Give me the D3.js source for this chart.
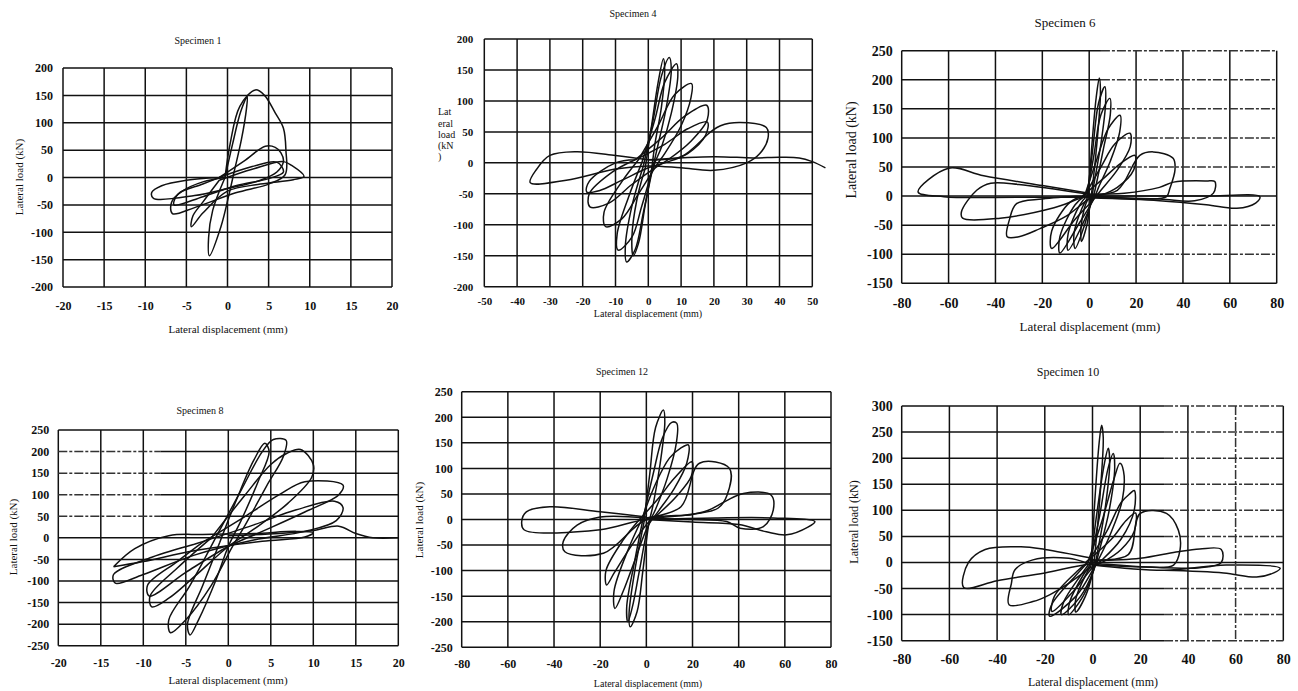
<!DOCTYPE html>
<html>
<head>
<meta charset="utf-8">
<script src="https://cdn.jsdelivr.net/npm/d3@7"></script>
<style>
  body { margin: 0; background: #fff; }
  svg { display: block; }
  text { font-family: "Liberation Serif", "DejaVu Serif", serif; fill: #111; }
</style>
</head>
<body>
<svg id="fig" width="1298" height="691"></svg>
<script>
// ---- tick values ----
const ticksX20 = [-20, -15, -10, -5, 0, 5, 10, 15, 20];
const ticksX50 = [-50, -40, -30, -20, -10, 0, 10, 20, 30, 40, 50];
const ticksX80 = [-80, -60, -40, -20, 0, 20, 40, 60, 80];
const ticksY200 = [-200, -150, -100, -50, 0, 50, 100, 150, 200];
const ticksY250 = [-250, -200, -150, -100, -50, 0, 50, 100, 150, 200, 250];
const ticksY6 = [-150, -100, -50, 0, 50, 100, 150, 200, 250];
const ticksY10 = [-150, -100, -50, 0, 50, 100, 150, 200, 250, 300];

// ---- hysteresis loops: [displacement mm, load kN] ----
const spec1Loops = [
  [[-0.3,0],[0.6,60],[1.6,120],[2.4,148],[2.3,125],[1.7,70],[0.8,10],[0.2,-30],[-0.8,-90],[-2.2,-143],[-2.3,-110],[-1.8,-60],[-0.3,0]],
  [[-0.3,0],[0.3,60],[1.5,130],[3.4,160],[4.5,150],[5.8,118],[6.8,90],[7.1,50],[7.0,5],[5,-12],[1,-28],[-4,-55],[-6.7,-66],[-6.8,-45],[-5.5,-25],[-3,-8],[-0.3,0]],
  [[-1,0],[2,30],[4.6,57],[5.8,55],[6.5,45],[6.8,29],[6,10],[4,-5],[0,-20],[-4,-33],[-9,-38],[-9.2,-27],[-8,-15],[-5,-5],[-1,0]],
  [[-1,-5],[3,15],[6.8,29],[7.8,22],[9.3,2],[8,-4],[4,-12],[0,-25],[-3,-65],[-4.4,-90],[-4.2,-70],[-3,-45],[-1,-5]],
  [[-1,0],[3,20],[6,28],[6.8,10],[5,-2],[1,-15],[-3,-35],[-6.5,-50],[-6,-30],[-3,-12],[-1,0]]
];

const spec4Loops = [
  [[-1,-10],[1,60],[3,130],[4.6,168],[5,150],[4,90],[2,30],[1,-10],[-1,-70],[-3,-130],[-4.6,-150],[-5,-120],[-3.5,-60],[-1,-10]],
  [[-1.5,-5],[1.5,70],[4,140],[6.4,170],[7,150],[5.5,90],[3,30],[1.5,-5],[-1.5,-80],[-4,-140],[-6.6,-160],[-7,-135],[-5,-70],[-1.5,-5]],
  [[-2,0],[2,70],[5,130],[8.6,160],[9,140],[7,80],[4,25],[2,0],[-2,-70],[-5,-120],[-9.2,-141],[-9.5,-115],[-6,-55],[-2,0]],
  [[-3,5],[3,60],[8,110],[13.2,128],[13,105],[10,60],[5,15],[3,0],[-3,-50],[-8,-90],[-13,-103],[-13.5,-80],[-8,-30],[-3,5]],
  [[-4,5],[4,40],[11,75],[17.8,93],[18,70],[13,35],[6,5],[3,-5],[-5,-35],[-12,-65],[-17.8,-71],[-18,-50],[-11,-15],[-4,5]],
  [[-4,5],[5,30],[12,55],[18,66],[17.5,45],[12,15],[5,0],[0,-8],[-8,-28],[-15,-45],[-18.8,-47],[-18,-30],[-10,0],[-4,5]],
  [[0,5],[10,10],[19,50],[22,60],[28,65],[36,57],[36.5,40],[34,15],[30,0],[20,-12],[10,-8],[0,-5],[-10,-10],[-25,-28],[-36,-32],[-34,-10],[-30,12],[-22,18],[-10,12],[0,5]],
  [[0,5],[20,10],[32,8],[40,9],[46,8],[50,2],[54,-8]]
];

const spec6Loops = [
  [[-0.5,-5],[1,80],[3,170],[4.3,203],[4.8,180],[3.5,100],[1.5,20],[0.5,-10],[-1,-50],[-3.3,-78],[-3.5,-55],[-2,-20],[-0.5,-5]],
  [[-1,-5],[1.5,80],[4,160],[6.7,188],[7,160],[5,90],[2,20],[1,-5],[-2,-50],[-6,-90],[-6.5,-65],[-3,-20],[-1,-5]],
  [[-1,0],[2,70],[5,140],[8.8,168],[9,140],[6,80],[3,20],[1.5,-5],[-3,-50],[-9,-93],[-9,-65],[-4,-15],[-1,0]],
  [[-2,0],[3,60],[8,115],[13.1,139],[13,110],[9,60],[4,15],[2,-5],[-4,-45],[-12.5,-98],[-12.5,-70],[-6,-15],[-2,0]],
  [[-2,0],[5,50],[11,90],[17.4,108],[17.5,85],[12,45],[5,10],[2,-5],[-6,-40],[-16,-90],[-16,-60],[-8,-10],[-2,0]],
  [[-3,0],[6,30],[13,55],[19.5,70],[19,45],[12,15],[4,0],[0,-5],[-10,-35],[-21,-56],[-30,-70],[-35,-70],[-34,-40],[-31,-13],[-20,-5],[-3,0]],
  [[0,3],[12,10],[21.6,70],[27.3,76],[35.8,65],[36.6,45],[34.4,13],[33,-1],[25,-5],[10,-2],[0,0],[-15,-20],[-38,-38],[-54,-38],[-54.5,-27],[-48,10],[-42,22],[-30,20],[-15,12],[0,3]],
  [[0,3],[15,5],[30,15],[36,24],[50,26],[53.6,25],[53,5],[45,-8],[30,-5],[0,-2],[-30,-2],[-62,-1],[-73,7],[-60,48],[-45,35],[-20,18],[0,5]],
  [[0,0],[30,0],[50,0],[72.8,-1],[71,-12],[63,-21],[50,-15],[30,-8],[0,-3]]
];

const spec8Loops = [
  [[-1,-10],[1,90],[3,180],[4.3,219],[4.8,200],[3.5,130],[1.5,40],[0,-20],[-1.5,-100],[-3.5,-190],[-4.5,-225],[-4.8,-200],[-3,-110],[-1,-10]],
  [[-1.5,0],[1.5,110],[4,200],[5.3,228],[6.8,226],[6.5,190],[4.5,120],[2,30],[0.5,-20],[-2,-110],[-5,-190],[-6.8,-220],[-7,-190],[-4.5,-110],[-1.5,0]],
  [[-2,0],[2,100],[5,170],[6.9,196],[8.5,205],[10,170],[9.8,140],[7,80],[3,20],[0,-20],[-4,-90],[-7,-140],[-9,-160],[-9.2,-135],[-6,-70],[-2,0]],
  [[-3,-10],[2,50],[6,100],[9,130],[13.5,122],[13,100],[9,60],[4,15],[0,-20],[-5,-80],[-9.3,-135],[-9.5,-110],[-6,-55],[-3,-10]],
  [[-4,-15],[3,30],[8,65],[12.5,85],[13.5,70],[12.7,40],[9,15],[3,-5],[-4,-40],[-10,-85],[-13.3,-105],[-13.5,-85],[-9,-45],[-4,-15]],
  [[-13.5,-67],[-11,-25],[-7,5],[-3,8],[3,10],[8,15],[10,12],[9,2],[4,-8],[-4,-30],[-10,-55],[-13.5,-67]],
  [[0,5],[6,10],[10,17],[13,27],[15,10],[17,0],[20,0]]
];

const spec12Loops = [
  [[-1,-5],[1.5,90],[4,180],[7.4,214],[8,190],[6,110],[3,30],[1,-10],[-1.5,-100],[-4,-180],[-7,-210],[-7.5,-185],[-5,-100],[-1,-5]],
  [[-1.5,0],[3,90],[7,160],[11,190],[13.2,188],[13,150],[9,80],[4,20],[1,-10],[-3,-100],[-6,-170],[-8,-200],[-8.5,-170],[-5,-80],[-1.5,0]],
  [[-2,0],[4,70],[10,120],[15,140],[18.2,146],[17.5,110],[12,60],[5,15],[1,-10],[-5,-80],[-10,-140],[-13.6,-174],[-14,-140],[-8,-60],[-2,0]],
  [[-3,0],[5,40],[12,80],[19.7,113],[19.5,85],[13,45],[5,10],[1,-5],[-7,-55],[-14,-105],[-17.2,-128],[-17.5,-100],[-10,-40],[-3,0]],
  [[0,3],[15,25],[23,110],[36,100],[35,48],[31,22],[20,10],[0,0],[-18.6,-66],[-35.3,-63],[-36,-43],[-30,-11],[-20,5],[0,3]],
  [[0,2],[25,15],[34,35],[42,51],[54,48],[55,19],[50.7,-14],[40.6,-17],[34.8,-4],[20,0],[0,0],[-20,-20],[-53,-20],[-54,-4],[-52,15],[-41.8,25],[-20,15],[0,5]],
  [[0,0],[30,3],[55,3],[73,-4],[70,-15],[60.8,-30],[52,-24],[40,-10],[20,-5],[0,0]]
];

const spec10Loops = [
  [[-0.5,-5],[1,120],[2.8,230],[3.8,263],[4.5,240],[3.5,150],[1.5,40],[0,-20],[-3,-65],[-7,-95],[-7,-70],[-3,-25],[-0.5,-5]],
  [[-1,-5],[2,100],[5,190],[6.6,219],[7.2,190],[5.5,110],[2.5,30],[0.5,-15],[-4,-65],[-10,-100],[-9.5,-75],[-4,-25],[-1,-5]],
  [[-1,0],[3,90],[6.5,180],[8.7,209],[9.3,180],[7,100],[3,25],[0.5,-15],[-5,-65],[-13,-100],[-12,-75],[-5,-25],[-1,0]],
  [[-2,0],[4,80],[9,160],[11.5,190],[13,175],[12.5,120],[8,60],[3,10],[0,-15],[-7,-65],[-18,-103],[-17,-80],[-7,-25],[-2,0]],
  [[-2,0],[6,60],[12,115],[15.7,132],[17.5,138],[17.5,100],[12,45],[4,5],[0,-10],[-8,-55],[-17,-94],[-16,-65],[-6,-15],[-2,0]],
  [[-3,0],[8,45],[14,80],[18,95],[17.5,60],[12,25],[4,0],[0,-8],[-10,-40],[-18,-62],[-25,-75],[-35,-81],[-34,-40],[-32.5,-14],[-25,5],[-10,8],[-3,0]],
  [[0,5],[15,15],[20,94],[31,94],[36,62],[36.7,24],[34,-5],[20,-8],[0,-3],[-20,-20],[-40,-35],[-54,-48],[-52,0],[-45,25],[-30,30],[-20,25],[0,8]],
  [[0,3],[20,8],[35,20],[45,26],[54,25],[54,0],[45,-10],[30,-10],[0,-5]],
  [[0,-5],[30,-15],[56,-5],[78.7,-11],[76,-20],[68.8,-28],[55,-20],[30,-15]]
];

const titles = ["Specimen 1", "Specimen 4", "Specimen 6", "Specimen 8", "Specimen 12", "Specimen 10"];
const xLabel = "Lateral displacement (mm)";
const yLabel = "Lateral load (kN)";

// ---- layout of the six panels ----
// fade: part of the grid that came out faint in the scan [x0, x1, y0, y1]; fadeV: faint vertical lines
const panels = [
  { title: titles[0], loops: spec1Loops, xt: ticksX20, yt: ticksY200, box: [63, 68, 329, 219],
    tickFs: 12, xPad: 14, yPad: 10, titleAt: [198, 42], titleFs: 10,
    xLabAt: [228, 330], xLabFs: 11 },
  { title: titles[1], loops: spec4Loops, xt: ticksX50, yt: ticksY200, box: [484.3, 39, 328, 247.7],
    tickFs: 11, xPad: 11, yPad: 11, titleAt: [633, 15], titleFs: 10,
    xLabAt: [648, 315], xLabFs: 10 },
  { title: titles[2], loops: spec6Loops, xt: ticksX80, yt: ticksY6, box: [901.7, 50.7, 375, 232.6],
    tickFs: 14, xPad: 15, yPad: 9, titleAt: [1065, 24], titleFs: 13,
    xLabAt: [1090, 328], xLabFs: 13, fade: [5, 80, -100, 250] },
  { title: titles[3], loops: spec8Loops, xt: ticksX20, yt: ticksY250, box: [58.3, 430, 340, 215.7],
    tickFs: 12, xPad: 13, yPad: 9, titleAt: [200, 412], titleFs: 10,
    xLabAt: [228, 681], xLabFs: 11, fade: [-20, -8, 0, 200] },
  { title: titles[4], loops: spec12Loops, xt: ticksX80, yt: ticksY250, box: [461.7, 391.7, 369.3, 255.6],
    tickFs: 12, xPad: 12, yPad: 9, titleAt: [622, 373], titleFs: 10,
    xLabAt: [648, 685], xLabFs: 10 },
  { title: titles[5], loops: spec10Loops, xt: ticksX80, yt: ticksY10, box: [901.7, 406, 381.6, 234.7],
    tickFs: 14, xPad: 13, yPad: 9, titleAt: [1068, 373], titleFs: 12,
    xLabAt: [1093, 683], xLabFs: 12, fade: [30, 80, -150, 300], fadeV: [60] }
];

const svg = d3.select("#fig");
const faintDash = "9,2,3,2";

function drawPanel(p) {
  const [L, T, W, H] = p.box;
  const x = d3.scaleLinear().domain(d3.extent(p.xt)).range([L, L + W]);
  const y = d3.scaleLinear().domain(d3.extent(p.yt)).range([T + H, T]);
  const g = svg.append("g");
  const f = p.fade;
  const fv = p.fadeV || [];

  // vertical grid lines
  g.append("g").selectAll("line").data(p.xt).join("line")
    .attr("x1", d => x(d)).attr("x2", d => x(d))
    .attr("y1", T).attr("y2", T + H)
    .attr("stroke", d => fv.includes(d) ? "#333" : "#111")
    .attr("stroke-width", 1.5)
    .attr("stroke-dasharray", d => fv.includes(d) ? faintDash : null);

  // horizontal grid lines, split where the scan went faint
  const xs = d3.extent(p.xt);
  const hSegs = [];
  p.yt.forEach(v => {
    if (f && v !== 0 && v >= f[2] && v <= f[3]) {
      if (f[0] > xs[0]) hSegs.push({ v, a: xs[0], b: f[0], faint: false });
      hSegs.push({ v, a: f[0], b: f[1], faint: true });
      if (f[1] < xs[1]) hSegs.push({ v, a: f[1], b: xs[1], faint: false });
    } else {
      hSegs.push({ v, a: xs[0], b: xs[1], faint: false });
    }
  });
  g.append("g").selectAll("line").data(hSegs).join("line")
    .attr("x1", d => x(d.a)).attr("x2", d => x(d.b))
    .attr("y1", d => y(d.v)).attr("y2", d => y(d.v))
    .attr("stroke", d => d.faint ? "#333" : "#111")
    .attr("stroke-width", 1.5)
    .attr("stroke-dasharray", d => d.faint ? faintDash : null);

  // axes (labels only)
  const ax = g.append("g").attr("transform", `translate(0,${T + H})`)
    .call(d3.axisBottom(x).tickValues(p.xt).tickSize(0).tickPadding(p.xPad).tickFormat(d => String(d)));
  const ay = g.append("g").attr("transform", `translate(${L},0)`)
    .call(d3.axisLeft(y).tickValues(p.yt).tickSize(0).tickPadding(p.yPad).tickFormat(d => String(d)));
  [ax, ay].forEach(a => {
    a.select(".domain").remove();
    a.selectAll("text").style("font-size", p.tickFs + "px").style("font-weight", "bold");
  });

  // hysteresis curves
  const line = d3.line().x(d => x(d[0])).y(d => y(d[1])).curve(d3.curveCatmullRom.alpha(0.5));
  g.append("g").selectAll("path").data(p.loops).join("path")
    .attr("d", line)
    .attr("fill", "none").attr("stroke", "#111").attr("stroke-width", 1.5)
    .attr("stroke-linejoin", "round");

  // title and x label
  g.append("text").attr("x", p.titleAt[0]).attr("y", p.titleAt[1])
    .attr("text-anchor", "middle").attr("dominant-baseline", "middle")
    .style("font-size", p.titleFs + "px").text(p.title);
  g.append("text").attr("x", p.xLabAt[0]).attr("y", p.xLabAt[1])
    .attr("text-anchor", "middle").attr("dominant-baseline", "middle")
    .style("font-size", p.xLabFs + "px").text(xLabel);
}

panels.forEach(drawPanel);

// rotated y labels, as they sit on the page
const yLabs = [[20, 177, 11], [853, 150, 14], [14, 537, 11], [420, 520, 11], [855, 522, 12]];
svg.selectAll(".ylab").data(yLabs).join("text")
  .attr("transform", d => `translate(${d[0]},${d[1]}) rotate(-90)`)
  .attr("text-anchor", "middle").attr("dominant-baseline", "middle")
  .style("font-size", d => d[2] + "px").text(yLabel);

// broken y label of specimen 4
const brokenLab = ["Lat", "eral", "load", "(kN", ")"];
svg.selectAll(".blab").data(brokenLab).join("text")
  .attr("x", 438).attr("y", (d, i) => 113 + i * 11.3)
  .attr("dominant-baseline", "middle")
  .style("font-size", "10px").text(d => d);
</script>
</body>
</html>
